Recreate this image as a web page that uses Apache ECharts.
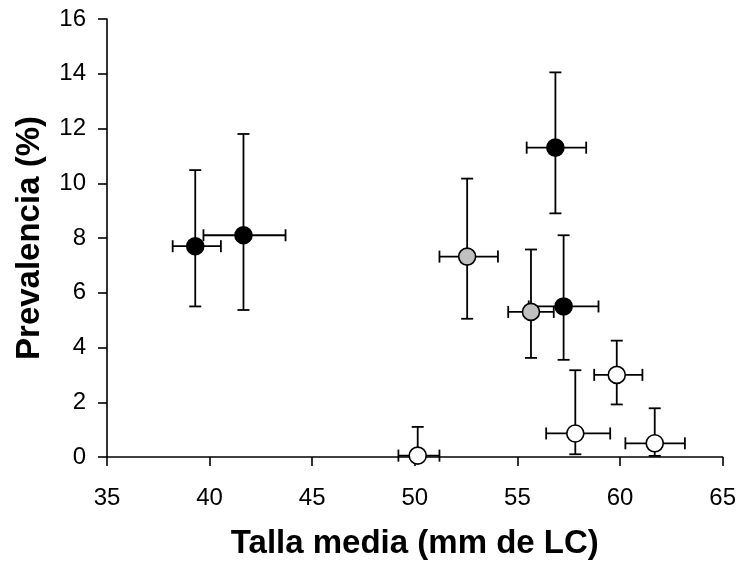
<!DOCTYPE html>
<html>
<head>
    <meta charset="utf-8">
    <title>Prevalencia vs talla media</title>
    <script src="https://cdn.jsdelivr.net/npm/echarts@6.0.0/dist/echarts.min.js"></script>
    <style>
        html, body { margin: 0; padding: 0; background: #fff; }
        #chart { width: 739px; height: 565px; }
    </style>
</head>
<body>
    <div id="chart"></div>
    <script>
        // 黑色点
        const blackX = [39.3, 41.65, 56.85, 57.25];
        const blackY = [7.7, 8.1, 11.3, 5.5];
        const blackXLo = [38.2, 39.7, 55.45, 55.55];
        const blackXHi = [40.55, 43.7, 58.35, 58.95];
        const blackYLo = [5.5, 5.37, 8.9, 3.55];
        const blackYHi = [10.48, 11.8, 14.05, 8.1];

        // 灰色点
        const grayX = [52.55, 55.66];
        const grayY = [7.32, 5.3];
        const grayXLo = [51.2, 54.55];
        const grayXHi = [54.05, 56.77];
        const grayYLo = [5.05, 3.62];
        const grayYHi = [10.17, 7.58];

        // 白色点
        const whiteX = [50.14, 57.82, 59.84, 61.69];
        const whiteY = [0.05, 0.86, 3.0, 0.5];
        const whiteXLo = [49.2, 56.4, 58.74, 60.26];
        const whiteXHi = [51.2, 59.52, 61.09, 63.16];
        const whiteYLo = [0.05, 0.1, 1.92, 0.04];
        const whiteYHi = [1.1, 3.17, 4.25, 1.78];

        const xTitle = 'Talla media (mm de LC)';
        const yTitle = 'Prevalencia (%)';

        function rows(x, y, xlo, xhi, ylo, yhi) {
            return x.map((v, i) => [v, y[i], xlo[i], xhi[i], ylo[i], yhi[i]]);
        }

        const allRows = rows(blackX, blackY, blackXLo, blackXHi, blackYLo, blackYHi)
            .concat(rows(grayX, grayY, grayXLo, grayXHi, grayYLo, grayYHi))
            .concat(rows(whiteX, whiteY, whiteXLo, whiteXHi, whiteYLo, whiteYHi));

        const CAP = 6;
        const lineStyle = { stroke: '#000', lineWidth: 1.8 };

        // 误差棒
        function renderErr(params, api) {
            const c = api.coord([api.value(0), api.value(1)]);
            const l = api.coord([api.value(2), api.value(1)]);
            const r = api.coord([api.value(3), api.value(1)]);
            const b = api.coord([api.value(0), api.value(4)]);
            const t = api.coord([api.value(0), api.value(5)]);
            const seg = (x1, y1, x2, y2) => ({
                type: 'line', shape: { x1, y1, x2, y2 }, style: lineStyle
            });
            return {
                type: 'group',
                children: [
                    seg(c[0], b[1], c[0], t[1]),
                    seg(c[0] - CAP, t[1], c[0] + CAP, t[1]),
                    seg(c[0] - CAP, b[1], c[0] + CAP, b[1]),
                    seg(l[0], c[1], r[0], c[1]),
                    seg(l[0], c[1] - CAP, l[0], c[1] + CAP),
                    seg(r[0], c[1] - CAP, r[0], c[1] + CAP)
                ]
            };
        }

        const chart = echarts.init(document.getElementById('chart'));
        const labelFont = { color: '#000', fontSize: 24, fontFamily: 'Liberation Sans' };
        const nameFont = { color: '#000', fontSize: 33, fontWeight: 'bold', fontFamily: 'Liberation Sans' };

        const option = {
            animation: false,
            grid: { left: 107, right: 11, top: 19, bottom: 108 },
            xAxis: {
                type: 'value', min: 35, max: 65, interval: 5,
                name: xTitle, nameLocation: 'middle', nameGap: 70,
                nameTextStyle: nameFont,
                axisLine: { onZero: false, lineStyle: { color: '#000', width: 1.6 } },
                axisTick: { show: true, length: 9, lineStyle: { color: '#000', width: 1.6 } },
                axisLabel: Object.assign({ margin: 29 }, labelFont),
                splitLine: { show: false }
            },
            yAxis: {
                type: 'value', min: 0, max: 16, interval: 2,
                name: yTitle, nameLocation: 'middle', nameGap: 61,
                nameTextStyle: nameFont,
                axisLine: { show: true, lineStyle: { color: '#000', width: 1.6 } },
                axisTick: { show: true, length: 9, lineStyle: { color: '#000', width: 1.6 } },
                axisLabel: Object.assign({ margin: 21 }, labelFont),
                splitLine: { show: false }
            },
            series: [
                {
                    type: 'custom', name: 'err', renderItem: renderErr,
                    data: allRows, z: 2, clip: false
                },
                {
                    type: 'scatter', name: 'blanco', symbol: 'circle', symbolSize: 17,
                    itemStyle: { color: '#fff', borderColor: '#000', borderWidth: 1.6, opacity: 1 },
                    data: whiteX.map((v, i) => [v, whiteY[i]]), z: 3
                },
                {
                    type: 'scatter', name: 'gris', symbol: 'circle', symbolSize: 17,
                    itemStyle: { color: '#c0c0c0', borderColor: '#000', borderWidth: 1.6, opacity: 1 },
                    data: grayX.map((v, i) => [v, grayY[i]]), z: 3
                },
                {
                    type: 'scatter', name: 'negro', symbol: 'circle', symbolSize: 17,
                    itemStyle: { color: '#000', borderColor: '#000', borderWidth: 1.6, opacity: 1 },
                    data: blackX.map((v, i) => [v, blackY[i]]), z: 4
                }
            ]
        };

        chart.setOption(option);
    </script>
</body>
</html>
